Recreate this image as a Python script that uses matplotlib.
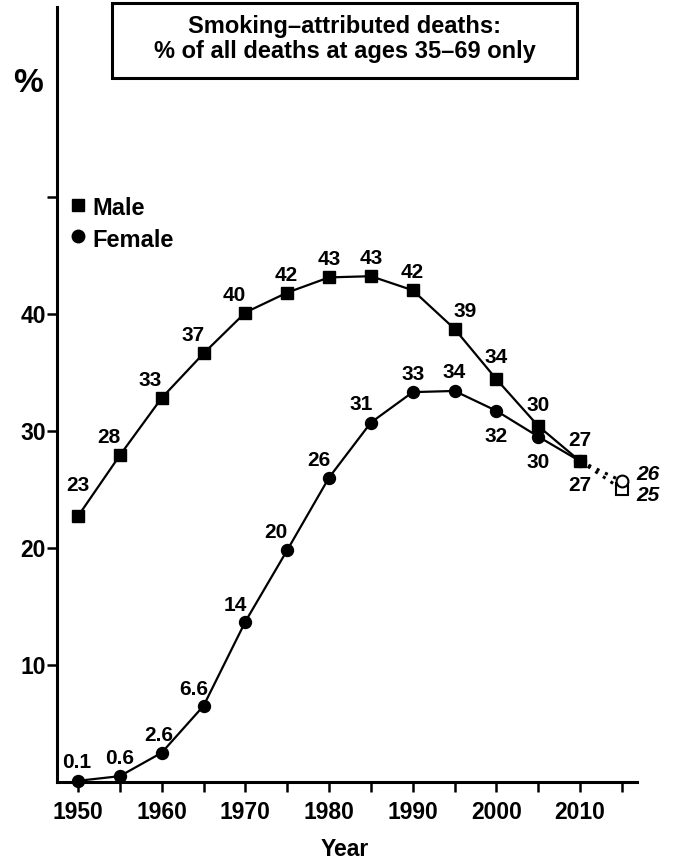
import matplotlib.pyplot as plt
from matplotlib.patches import Rectangle

plt.rcParams['font.family'] = ['Liberation Sans', 'DejaVu Sans']
plt.rcParams['font.weight'] = 'bold'

## values
years = [1950, 1955, 1960, 1965, 1970, 1975, 1980, 1985, 1990, 1995, 2000, 2005, 2010]
male = [22.7, 27.9, 32.8, 36.6, 40.1, 41.8, 43.1, 43.2, 42.0, 38.7, 34.4, 30.4, 27.4]
female = [0.1, 0.5, 2.5, 6.5, 13.7, 19.8, 26.0, 30.7, 33.3, 33.4, 31.7, 29.5, 27.4]
male_labels = ['23', '28', '33', '37', '40', '42', '43', '43', '42', '39', '34', '30', '27']
female_labels = ['0.1', '0.6', '2.6', '6.6', '14', '20', '26', '31', '33', '34', '32', '30', '27']
proj_year = 2015
male_proj = 25.0
female_proj = 25.7
proj_labels = ['25', '26']

# label offsets in pixels (centre of the label relative to the marker)
male_off = [(0, 32), (-11, 19), (-12, 19), (-10, 19), (-11, 19), (-1, 19), (0, 19),
            (0, 19), (0, 19), (11, 19), (0, 23), (0, 22), (0, 22)]
female_off = [(-1, 20), (0, 19), (-3, 19), (-10, 18), (-10, 18), (-11, 19), (-10, 19),
              (-10, 20), (0, 19), (0, 20), (0, -24), (0, -24), (0, -23)]

fig = plt.figure(figsize=(6.8, 8.66), dpi=100)
ax = fig.add_axes([0.0838, 0.097, 0.853, 0.895])

ax.plot(years, female, color='black', lw=1.6, marker='o', ms=8.6, zorder=3, clip_on=False)
ax.plot(years, male, color='black', lw=1.6, marker='s', ms=8.2, zorder=3, clip_on=False)

# projection to 2015
ax.plot([years[-1], proj_year], [male[-1], male_proj], color='black', lw=2.2, ls=(0, (1, 2)))
ax.plot([years[-1], proj_year], [female[-1], female_proj], color='black', lw=2.2, ls=(0, (1, 2)))
ax.plot(proj_year, male_proj, marker='s', ms=8.5, mfc='white', mec='black', mew=1.5, zorder=4)
ax.plot(proj_year, female_proj, marker='o', ms=8.5, mfc='white', mec='black', mew=1.5, zorder=5)
ax.annotate(proj_labels[1], (proj_year, female_proj), xytext=(14, 7), textcoords='offset pixels',
            fontsize=15, style='italic', va='center', ha='left')
ax.annotate(proj_labels[0], (proj_year, male_proj), xytext=(14, -6), textcoords='offset pixels',
            fontsize=15, style='italic', va='center', ha='left')

# labels placed by baseline: centre offset minus half the digit height
for x, y, t, o in zip(years, male, male_labels, male_off):
    ax.annotate(t, (x, y), xytext=(o[0], o[1] - 7), textcoords='offset pixels',
                ha='center', va='baseline', fontsize=15, annotation_clip=False)
for x, y, t, o in zip(years, female, female_labels, female_off):
    ax.annotate(t, (x, y), xytext=(o[0], o[1] - 7), textcoords='offset pixels',
                ha='center', va='baseline', fontsize=15, annotation_clip=False)

ax.set_xlim(1947.49, 2016.8)
ax.set_ylim(0, 66.2)
ax.set_xticks(range(1950, 2016, 5))
ax.set_xticklabels([str(y) if y % 10 == 0 and y < 2015 else '' for y in range(1950, 2016, 5)])
ax.set_yticks([10, 20, 30, 40, 50])
ax.set_yticklabels(['10', '20', '30', '40', ''])
ax.tick_params(labelsize=16.5, width=1.8, length=7, direction='out')
ax.tick_params(axis='x', pad=7)
ax.tick_params(axis='y', pad=1)
for s in ['top', 'right']:
    ax.spines[s].set_visible(False)
for s in ['left', 'bottom']:
    ax.spines[s].set_linewidth(2.2)

fig.text(0.507, 0.0185, 'Year', fontsize=16.5, ha='center', va='center')
fig.text(0.041, 0.9036, '%', fontsize=24, ha='center', va='center')

# legend drawn by hand
ax.plot(1950, 49.3, marker='s', ms=9, color='black', clip_on=False)
ax.plot(1950, 46.6, marker='o', ms=9, color='black', clip_on=False)
ax.text(1951.76, 48.4, 'Male', fontsize=17, va='baseline')
ax.text(1951.76, 45.7, 'Female', fontsize=17, va='baseline')

# title box
fig.patches.append(Rectangle((0.164, 0.910), 0.684, 0.0863, transform=fig.transFigure,
                             fc='white', ec='black', lw=2.2))
fig.text(0.5066, 0.9615, 'Smoking\u2013attributed deaths:', ha='center', va='baseline', fontsize=17)
fig.text(0.5066, 0.9327, '% of all deaths at ages 35\u201369 only', ha='center', va='baseline', fontsize=17)

fig.savefig('out.png', dpi=100)
